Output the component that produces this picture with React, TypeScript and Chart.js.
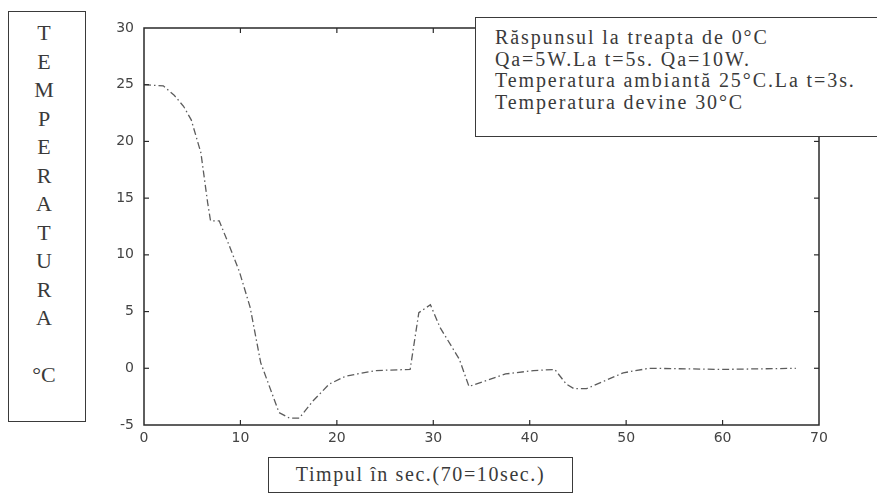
import React, { useEffect, useRef } from "react";
import { Chart, registerables } from "chart.js";

Chart.register(...registerables);

// Time axis (0..70 = 0..10 s) and temperature response (°C)
const timeValues = [
  0, 2.0, 3.1, 4.1, 4.9, 5.9, 6.6, 6.9, 7.8, 8.8, 9.9, 11.0, 12.1, 14.0, 15.1,
  16.1, 17.5, 19.2, 20.9, 24.0, 27.6, 28.5, 29.7, 30.7, 32.7, 33.7, 37.5, 40.4,
  42.6, 43.8, 44.6, 45.9, 49.7, 52.4, 59.9, 67.6,
];
const temperatureValues = [
  25, 24.9, 24.1, 23.1, 21.9, 19.0, 14.6, 13.0, 13.0, 10.9, 8.5, 5.4, 0.5, -3.9,
  -4.4, -4.4, -2.9, -1.4, -0.7, -0.2, -0.1, 4.9, 5.6, 3.6, 0.8, -1.6, -0.5, -0.2,
  -0.1, -1.4, -1.8, -1.8, -0.4, 0, -0.1, 0,
];

const xRange = [0, 70];
const xStep = 10;
const yRange = [-5, 30];
const yStep = 5;

const yTitleLetters = ["T", "E", "M", "P", "E", "R", "A", "T", "U", "R", "A", "", "°C"];
const noteLines = [
  "Răspunsul la treapta de 0°C",
  "Qa=5W.La t=5s. Qa=10W.",
  "Temperatura ambiantă 25°C.La t=3s.",
  "Temperatura devine 30°C",
];
const xTitle = "Timpul în sec.(70=10sec.)";

const W = 877;
const H = 504;

const framePlugin = {
  id: "frame",
  afterDraw(chart: any) {
    const { ctx, chartArea: a, scales } = chart;
    ctx.save();
    ctx.strokeStyle = "#2a2a2a";
    ctx.lineWidth = 1.5;
    ctx.strokeRect(a.left, a.top, a.right - a.left, a.bottom - a.top);
    ctx.lineWidth = 1.2;
    const len = 5;
    const line = (x1: number, y1: number, x2: number, y2: number) => {
      ctx.beginPath();
      ctx.moveTo(x1, y1);
      ctx.lineTo(x2, y2);
      ctx.stroke();
    };
    scales.x.ticks.forEach((t: any) => {
      const p = scales.x.getPixelForValue(t.value);
      if (p <= a.left + 1 || p >= a.right - 1) return;
      line(p, a.bottom, p, a.bottom - len);
      line(p, a.top, p, a.top + len);
    });
    scales.y.ticks.forEach((t: any) => {
      const p = scales.y.getPixelForValue(t.value);
      if (p <= a.top + 1 || p >= a.bottom - 1) return;
      line(a.left, p, a.left + len, p);
      line(a.right, p, a.right - len, p);
    });
    ctx.restore();
  },
};

export default function App() {
  const ref = useRef<HTMLCanvasElement>(null);

  useEffect(() => {
    if (!ref.current) return;
    const tickFont = { family: "'DejaVu Sans', sans-serif", size: 14 };
    const chart = new Chart(ref.current, {
      type: "line",
      data: {
        datasets: [
          {
            data: timeValues.map((x, i) => ({ x, y: temperatureValues[i] })),
            borderColor: "#5c5c5c",
            borderWidth: 1.3,
            borderDash: [7, 3, 1.5, 3],
            pointRadius: 0,
            tension: 0,
            fill: false,
          },
        ],
      },
      options: {
        responsive: false,
        animation: false,
        devicePixelRatio: 1,
        layout: { padding: { left: 0, right: 58, top: 28, bottom: 0 } },
        plugins: { legend: { display: false }, tooltip: { enabled: false } },
        scales: {
          x: {
            type: "linear",
            min: xRange[0],
            max: xRange[1],
            ticks: { stepSize: xStep, color: "#444", font: tickFont, padding: 5, maxRotation: 0 },
            grid: { display: true, drawOnChartArea: false, drawTicks: false },
            border: { display: false },
            afterFit: (s: any) => {
              s.height = 79;
            },
          },
          y: {
            type: "linear",
            min: yRange[0],
            max: yRange[1],
            ticks: { stepSize: yStep, color: "#444", font: tickFont, padding: 10 },
            grid: { display: true, drawOnChartArea: false, drawTicks: false },
            border: { display: false },
            afterFit: (s: any) => {
              s.width = 144;
            },
          },
        },
      },
      plugins: [framePlugin],
    });
    return () => chart.destroy();
  }, []);

  const serif = "'Liberation Serif', 'Times New Roman', serif";

  return (
    <div
      style={{
        position: "fixed",
        left: 0,
        top: 0,
        width: W,
        height: H,
        overflow: "hidden",
        background: "#fff",
      }}
    >
      <canvas ref={ref} width={W} height={H} style={{ position: "absolute", left: 0, top: 0 }} />

      {/* vertical y-axis title box */}
      <div
        style={{
          position: "absolute",
          left: 8,
          top: 11,
          width: 78,
          height: 411,
          border: "1.5px solid #3a3a3a",
          boxSizing: "border-box",
          background: "#fff",
          fontFamily: serif,
          fontSize: 22,
          color: "#3a3a3a",
          textAlign: "center",
          paddingTop: 7,
          paddingRight: 6,
          lineHeight: "28.5px",
        }}
      >
        {yTitleLetters.map((l, i) => (
          <div key={i} style={{ height: 28.5 }}>
            {l}
          </div>
        ))}
      </div>

      {/* note box */}
      <div
        style={{
          position: "absolute",
          left: 475,
          top: 17,
          width: 420,
          height: 120,
          border: "1.5px solid #3a3a3a",
          boxSizing: "border-box",
          background: "#fff",
          fontFamily: serif,
          fontSize: 20,
          letterSpacing: "1.9px",
          color: "#3a3a3a",
          paddingLeft: 19,
          paddingTop: 9,
          lineHeight: "21.5px",
          whiteSpace: "nowrap",
        }}
      >
        {noteLines.map((l, i) => (
          <div key={i}>{l}</div>
        ))}
      </div>

      {/* x-axis title box */}
      <div
        style={{
          position: "absolute",
          left: 268,
          top: 457,
          width: 305,
          height: 36,
          border: "1.5px solid #3a3a3a",
          boxSizing: "border-box",
          background: "#fff",
          fontFamily: serif,
          fontSize: 20,
          letterSpacing: "1.6px",
          color: "#3a3a3a",
          textAlign: "center",
          lineHeight: "33px",
          whiteSpace: "nowrap",
        }}
      >
        {xTitle}
      </div>
    </div>
  );
}
